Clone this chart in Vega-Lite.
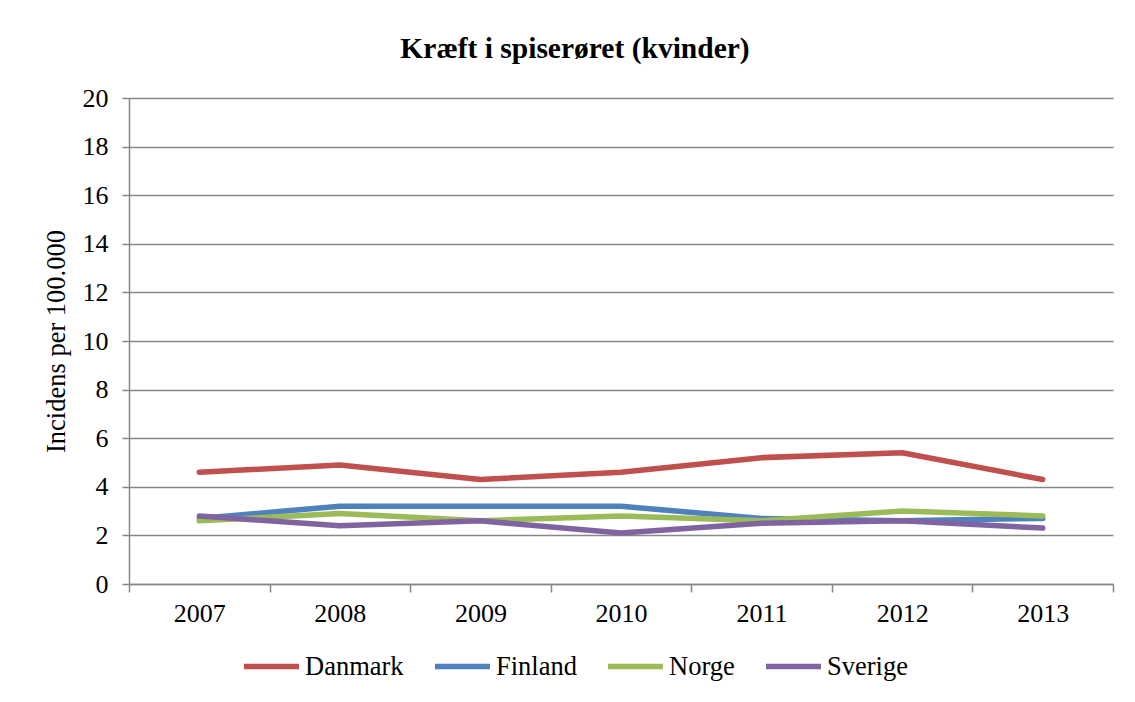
{
  "$schema": "https://vega.github.io/schema/vega-lite/v6.json",
  "width": 984,
  "height": 486,
  "autosize": {"type": "none"},
  "padding": {"left": 129, "top": 98, "right": 22, "bottom": 118},
  "background": "white",
  "title": {
    "text": "Kræft i spiserøret (kvinder)",
    "font": "Liberation Serif",
    "fontSize": 29.5,
    "fontWeight": "bold",
    "color": "black",
    "offset": 21,
    "dx": -46
  },
  "data": {
    "values": [
      {"year": "2007", "land": "Danmark", "v": 4.6},
      {"year": "2008", "land": "Danmark", "v": 4.9},
      {"year": "2009", "land": "Danmark", "v": 4.3},
      {"year": "2010", "land": "Danmark", "v": 4.6},
      {"year": "2011", "land": "Danmark", "v": 5.2},
      {"year": "2012", "land": "Danmark", "v": 5.4},
      {"year": "2013", "land": "Danmark", "v": 4.3},
      {"year": "2007", "land": "Finland", "v": 2.7},
      {"year": "2008", "land": "Finland", "v": 3.2},
      {"year": "2009", "land": "Finland", "v": 3.2},
      {"year": "2010", "land": "Finland", "v": 3.2},
      {"year": "2011", "land": "Finland", "v": 2.7},
      {"year": "2012", "land": "Finland", "v": 2.6},
      {"year": "2013", "land": "Finland", "v": 2.7},
      {"year": "2007", "land": "Norge", "v": 2.6},
      {"year": "2008", "land": "Norge", "v": 2.9},
      {"year": "2009", "land": "Norge", "v": 2.6},
      {"year": "2010", "land": "Norge", "v": 2.8},
      {"year": "2011", "land": "Norge", "v": 2.6},
      {"year": "2012", "land": "Norge", "v": 3.0},
      {"year": "2013", "land": "Norge", "v": 2.8},
      {"year": "2007", "land": "Sverige", "v": 2.8},
      {"year": "2008", "land": "Sverige", "v": 2.4},
      {"year": "2009", "land": "Sverige", "v": 2.6},
      {"year": "2010", "land": "Sverige", "v": 2.1},
      {"year": "2011", "land": "Sverige", "v": 2.5},
      {"year": "2012", "land": "Sverige", "v": 2.6},
      {"year": "2013", "land": "Sverige", "v": 2.3}
    ]
  },
  "mark": {"type": "line", "strokeWidth": 5.5, "strokeCap": "round", "strokeJoin": "round"},
  "encoding": {
    "x": {
      "field": "year",
      "type": "ordinal",
      "bandPosition": 0.5,
      "scale": {"type": "band", "paddingInner": 0, "paddingOuter": 0},
      "axis": {
        "title": null,
        "labelAngle": 0,
        "tickBand": "extent",
        "grid": false,
        "domainColor": "#878787",
        "domainWidth": 1.5,
        "tickColor": "#878787",
        "tickWidth": 1.5,
        "tickSize": 8,
        "labelPadding": 8,
        "labelFont": "Liberation Serif",
        "labelFontSize": 26,
        "labelColor": "black"
      }
    },
    "y": {
      "field": "v",
      "type": "quantitative",
      "scale": {"domain": [0, 20], "nice": false, "zero": true},
      "axis": {
        "title": "Incidens per 100.000",
        "values": [0, 2, 4, 6, 8, 10, 12, 14, 16, 18, 20],
        "grid": true,
        "gridColor": "#878787",
        "gridWidth": 1.5,
        "domainColor": "#878787",
        "domainWidth": 1.5,
        "tickColor": "#878787",
        "tickWidth": 1.5,
        "tickSize": 7,
        "labelPadding": 14,
        "labelFont": "Liberation Serif",
        "labelFontSize": 26,
        "labelColor": "black",
        "titleFont": "Liberation Serif",
        "titleFontSize": 26.5,
        "titleFontWeight": "normal",
        "titleColor": "black",
        "titlePadding": 12
      }
    },
    "color": {
      "field": "land",
      "type": "nominal",
      "scale": {
        "domain": ["Danmark", "Finland", "Norge", "Sverige"],
        "range": ["#C0504D", "#4F81BD", "#9BBB59", "#8064A2"]
      },
      "legend": {
        "title": null,
        "orient": "none",
        "direction": "horizontal",
        "legendX": 112,
        "legendY": 538,
        "symbolType": "stroke",
        "symbolStrokeWidth": 5.5,
        "symbolSize": 3025,
        "labelFont": "Liberation Serif",
        "labelFontSize": 26.5,
        "labelColor": "black",
        "labelOffset": 3,
        "columnPadding": 20
      }
    }
  },
  "config": {"font": "Liberation Serif", "view": {"stroke": null}}
}
